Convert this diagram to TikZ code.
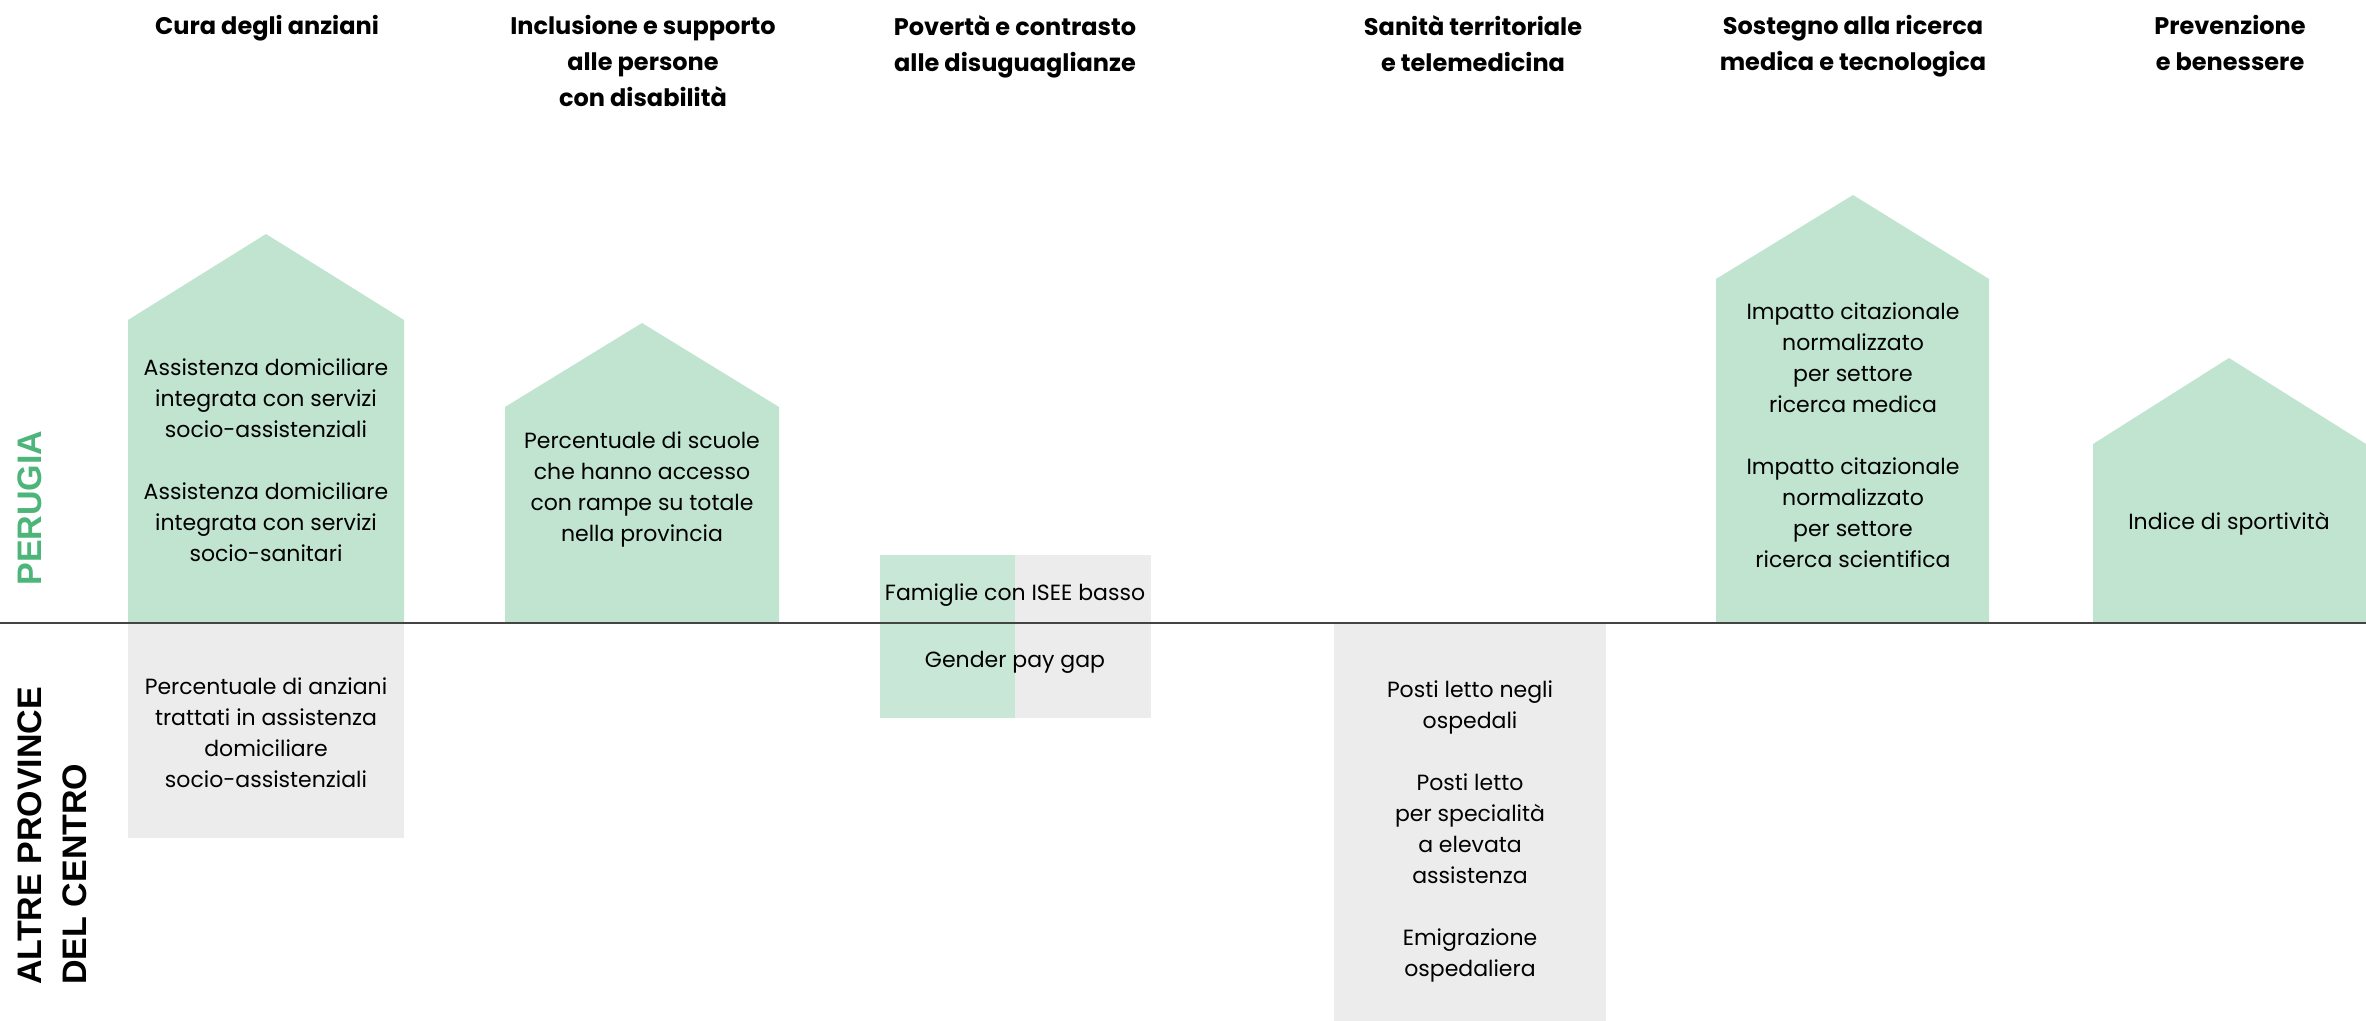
\documentclass[tikz,border=0pt]{standalone}
\usepackage{fontspec}
\setmainfont{Poppins}
\newfontfamily\sidefont{Liberation Sans}
\usetikzlibrary{positioning}

\definecolor{housegreen}{HTML}{C1E4D1}
\definecolor{splitgreen}{HTML}{C9E7D6}
\definecolor{boxgrey}{HTML}{ECECEC}
\definecolor{perugiagreen}{HTML}{4DB57A}
\definecolor{axisgrey}{HTML}{444444}

\begin{document}
\begin{tikzpicture}[x=0.5pt,y=-0.5pt,
  house/.style={fill=housegreen},
  greybox/.style={fill=boxgrey},
  heading/.style={font=\bfseries\fontsize{12}{18}\selectfont,align=center,anchor=north,inner sep=0pt},
  itemtext/.style={font=\fontsize{11}{15.5}\selectfont,align=center,inner sep=0pt},
  side/.style={font=\sidefont\bfseries\fontsize{17}{22.5}\selectfont,rotate=90,align=left,anchor=west,inner sep=0pt}]
\useasboundingbox (0,0) rectangle (2366,1021);

% houses and boxes
\path[house] (128,623) -- (128,320) -- (266,234) -- (404,320) -- (404,623) -- cycle;
\path[greybox] (128,623) rectangle (404,838);
\path[house] (505,623) -- (505,407) -- (642,323) -- (779,407) -- (779,623) -- cycle;
\path[fill=splitgreen] (880,555) rectangle (1015,718);
\path[greybox] (1015,555) rectangle (1151,718);
\path[greybox] (1334,623) rectangle (1606,1021);
\path[house] (1716,623) -- (1716,279) -- (1853,195) -- (1989,279) -- (1989,623) -- cycle;
\path[house] (2093,623) -- (2093,444) -- (2229,358) -- (2366,444) -- (2366,623) -- cycle;

% axis
\coordinate (axisL) at (0,623);
\coordinate (axisR) at (2366,623);
\draw[axisgrey,line width=1pt] (axisL) -- (axisR);

% headings
\node(cura)[heading] at (267,15){Cura degli anziani};
\node(inclusione)[heading] at (643,15){Inclusione e supporto\\alle persone\\con disabilità};
\node(poverta)[heading] at (1015,15){Povertà e contrasto\\alle disuguaglianze};
\node(sanita)[heading] at (1473,15){Sanità territoriale\\e telemedicina};
\node(ricerca)[heading] at (1853,15){Sostegno alla ricerca\\medica e tecnologica};
\node(prevenzione)[heading] at (2230,15){Prevenzione\\e benessere};

% side labels
\node(perugia)[side,text=perugiagreen] at (30,586){PERUGIA};
\node(altre)[side] at (52,985){ALTRE PROVINCE\\DEL CENTRO};

% indicators
\node(adi)[itemtext] at (266,460){Assistenza domiciliare\\integrata con servizi\\socio-assistenziali\\[15.5pt]Assistenza domiciliare\\integrata con servizi\\socio-sanitari};
\node(anziani)[itemtext] at (266,733){Percentuale di anziani\\trattati in assistenza\\domiciliare\\socio-assistenziali};
\node(scuole)[itemtext] at (642,489){Percentuale di scuole\\che hanno accesso\\con rampe su totale\\nella provincia};
\node(isee)[itemtext] at (1015,595){Famiglie con ISEE basso};
\node(paygap)[itemtext] at (1015,662){Gender pay gap};
\node(posti)[itemtext] at (1470,831){Posti letto negli\\ospedali\\[15.5pt]Posti letto\\per specialità\\a elevata\\assistenza\\[15.5pt]Emigrazione\\ospedaliera};
\node(citazioni)[itemtext] at (1853,435){Impatto citazionale\\normalizzato\\per settore\\ricerca medica\\[15.5pt]Impatto citazionale\\normalizzato\\per settore\\ricerca scientifica};
\node(sport)[itemtext] at (2229,524){Indice di sportività};
\end{tikzpicture}
\end{document}
